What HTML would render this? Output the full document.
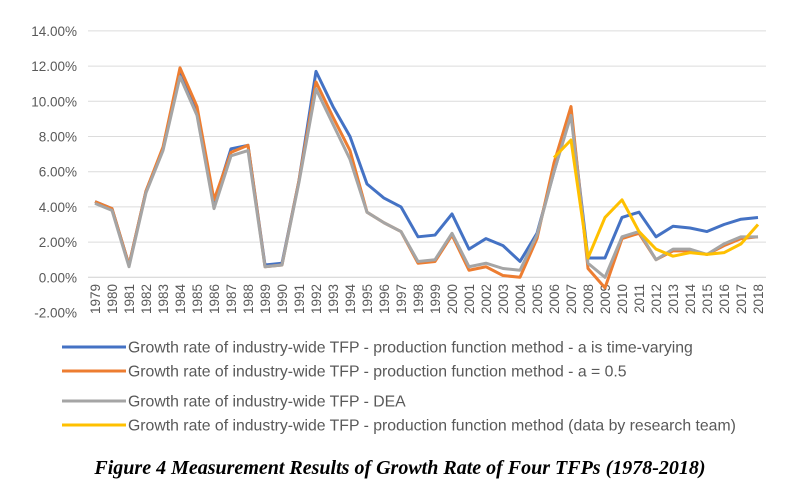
<!DOCTYPE html>
<html><head><meta charset="utf-8"><style>
body{margin:0;background:#fff;width:800px;height:499px;overflow:hidden}
svg{display:block}
</style></head><body>
<svg width="800" height="499" font-family="Liberation Sans, sans-serif">
<g id="grid"></g>
<g id="yt"></g>
<g id="xt"></g>
<g id="series"></g>
<g id="legend"></g>
<text x="400" y="474" text-anchor="middle" font-family="Liberation Serif, serif" font-weight="bold" font-style="italic" font-size="20" fill="#000">Figure 4 Measurement Results of Growth Rate of Four TFPs (1978-2018)</text>
</svg>
<script>
const years=[];for(let y=1979;y<=2018;y++)years.push(y);
const yTicks=[14,12,10,8,6,4,2,0,-2];
const blue=[4.3,3.9,0.7,4.9,7.3,11.7,9.5,4.2,7.3,7.5,0.7,0.8,5.5,11.7,9.7,8.0,5.3,4.5,4.0,2.3,2.4,3.6,1.6,2.2,1.8,0.9,2.5,6.0,9.3,1.1,1.1,3.4,3.7,2.3,2.9,2.8,2.6,3.0,3.3,3.4];
const orange=[4.3,3.9,0.7,4.9,7.4,11.9,9.7,4.4,7.1,7.5,0.6,0.7,5.5,11.1,9.1,7.2,3.7,3.1,2.6,0.8,0.9,2.4,0.4,0.6,0.1,0.0,2.2,6.5,9.7,0.5,-0.6,2.2,2.5,1.0,1.5,1.5,1.3,1.8,2.2,2.3];
const gray=[4.2,3.8,0.6,4.8,7.2,11.4,9.2,3.9,6.9,7.2,0.6,0.7,5.4,10.7,8.7,6.7,3.7,3.1,2.6,0.9,1.0,2.5,0.6,0.8,0.5,0.4,2.4,6.0,9.2,0.8,0.0,2.3,2.6,1.0,1.6,1.6,1.3,1.9,2.3,2.3];
const yellowYears=[2006,2007,2008,2009,2010,2011,2012,2013,2014,2015,2016,2017,2018];
const yellow=[6.8,7.8,1.1,3.4,4.4,2.6,1.6,1.2,1.4,1.3,1.4,1.9,3.0];
const legendLabels=["Growth rate of industry-wide TFP - production function method - a is time-varying","Growth rate of industry-wide TFP - production function method - a = 0.5","Growth rate of industry-wide TFP - DEA","Growth rate of industry-wide TFP - production function method (data by research team)"];
const NS="http://www.w3.org/2000/svg";
const X=y=>95+(y-1979)*17.0;
const Y=v=>277.3-v*17.6;
function mk(t,a,p){const e=document.createElementNS(NS,t);for(const k in a)e.setAttribute(k,a[k]);p.appendChild(e);return e;}
const grid=document.getElementById('grid'),yt=document.getElementById('yt'),xt=document.getElementById('xt'),ser=document.getElementById('series'),leg=document.getElementById('legend');
yTicks.forEach(v=>{
 if(v>=0){const l=mk('line',{x1:88,x2:766,y1:Y(v),y2:Y(v),stroke:v===0?'#d0d0d0':'#dcdcdc','stroke-width':1},grid);
 
 }
 const t=mk('text',{x:77,y:Y(v)+5,'text-anchor':'end','font-size':13.5,fill:'#595959'},yt);
 t.textContent=v.toFixed(2)+'%';
 
 
});
years.forEach(y=>{
 const t=mk('text',{transform:`translate(${X(y)+5},284) rotate(-90)`,'text-anchor':'end','font-size':13.5,fill:'#595959'},xt);
 t.textContent=y;
 
 
});
function line(xs,vs,c,name){
 const p=mk('polyline',{points:xs.map((y,i)=>X(y)+','+Y(vs[i])).join(' '),fill:'none',stroke:c,'stroke-width':3,'stroke-linejoin':'round'},ser);
 
 
}
line(years,blue,'#4472c4','series-time-varying');
line(years,orange,'#ed7d31','series-a-0.5');
line(years,gray,'#a5a5a5','series-dea');
line(yellowYears,yellow,'#ffc000','series-research-team');
const cols=['#4472c4','#ed7d31','#a5a5a5','#ffc000'],ly=[347,371,401,425];
legendLabels.forEach((s,i)=>{
 const g=mk('g',{},leg);
 
 
 mk('line',{x1:62,x2:126,y1:ly[i],y2:ly[i],stroke:cols[i],'stroke-width':3},g);
 const t=mk('text',{x:128,y:ly[i]+5.5,'font-size':15.8,fill:'#595959'},g);
 t.textContent=s;
});
</script>
</body></html>
